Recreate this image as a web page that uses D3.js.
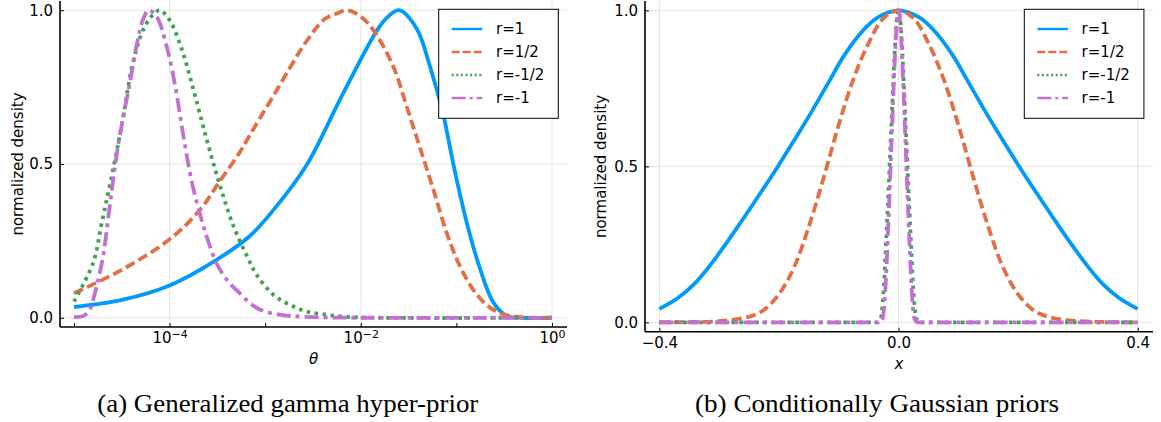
<!DOCTYPE html>
<html>
<head>
<meta charset="utf-8">
<script src="https://cdn.jsdelivr.net/npm/d3@7/dist/d3.min.js"></script>
<style>
  html, body { margin: 0; padding: 0; background: #fff; }
  svg { display: block; }
  text { font-family: "DejaVu Sans", sans-serif; fill: #000; }
</style>
</head>
<body>
<svg id="chart" width="1161" height="422"></svg>
<script>
// ---------------- DATA ----------------
// Panel (a): generalized gamma hyper-prior, x = log10(theta)
const seriesNames = ["r=1", "r=1/2", "r=-1/2", "r=-1"];

const a_r1_logTheta = [-5, -4.5, -4, -3.5, -3.16, -2.915, -2.566, -2.22, -1.87, -1.75, -1.6, -1.415, -1.276, -1.137, -1.032, -0.892, -0.753, -0.614, -0.474, -0.3, 0];
const a_r1_density  = [0.035, 0.058, 0.105, 0.19, 0.266, 0.35, 0.497, 0.708, 0.914, 0.968, 1.0, 0.94, 0.817, 0.66, 0.5, 0.31, 0.16, 0.05, 0.006, 0, 0];

const a_rHalf_logTheta = [-5, -4.5, -4, -3.682, -3.473, -3.264, -3.159, -2.915, -2.566, -2.374, -2.245, -2.147, -2.01, -1.87, -1.66, -1.52, -1.38, -1.24, -1.10, -0.962, -0.823, -0.683, -0.544, -0.335, 0];
const a_rHalf_density  = [0.08, 0.156, 0.255, 0.351, 0.445, 0.539, 0.595, 0.721, 0.90, 0.972, 0.99, 1.0, 0.982, 0.936, 0.817, 0.687, 0.552, 0.416, 0.275, 0.167, 0.091, 0.042, 0.015, 0.002, 0];

const a_rMinusHalf_logTheta = [-5, -4.8, -4.71, -4.62, -4.5, -4.38, -4.26, -4.15, -4.1, -4.0, -3.87, -3.75, -3.61, -3.47, -3.33, -3.18, -3.09, -2.915, -2.74, -2.566, -2.36, -2.15, -1.8, 0];
const a_rMinusHalf_density  = [0.053, 0.178, 0.308, 0.438, 0.627, 0.833, 0.947, 0.992, 1.0, 0.968, 0.871, 0.741, 0.578, 0.427, 0.297, 0.194, 0.14, 0.075, 0.042, 0.02, 0.01, 0.003, 0, 0];

const a_rMinus1_logTheta = [-5, -4.9, -4.83, -4.8, -4.75, -4.69, -4.64, -4.59, -4.54, -4.47, -4.41, -4.34, -4.28, -4.22, -4.135, -4.03, -3.94, -3.86, -3.77, -3.68, -3.6, -3.51, -3.4, -3.26, -3.16, -3.05, -2.85, -2.57, -2.0, 0];
const a_rMinus1_density  = [0.002, 0.006, 0.03, 0.058, 0.118, 0.21, 0.329, 0.448, 0.557, 0.676, 0.773, 0.893, 0.968, 1.0, 0.979, 0.882, 0.752, 0.6, 0.445, 0.335, 0.253, 0.178, 0.123, 0.078, 0.048, 0.026, 0.01, 0.003, 0, 0];

// Panel (b): conditionally Gaussian priors, x
const b_r1_x       = [-0.40, -0.369, -0.341, -0.313, -0.286, -0.258, -0.230, -0.202, -0.174, -0.146, -0.118, -0.090, -0.062, -0.034, 0, 0.034, 0.062, 0.090, 0.118, 0.146, 0.174, 0.202, 0.230, 0.258, 0.286, 0.313, 0.341, 0.369, 0.40];
const b_r1_density = [0.043, 0.078, 0.124, 0.188, 0.259, 0.337, 0.417, 0.499, 0.585, 0.673, 0.766, 0.858, 0.93, 0.978, 1.0, 0.978, 0.93, 0.858, 0.766, 0.673, 0.585, 0.499, 0.417, 0.337, 0.259, 0.188, 0.124, 0.078, 0.043];

const b_rHalf_x       = [-0.40, -0.35, -0.30, -0.25, -0.225, -0.20, -0.175, -0.15, -0.125, -0.10, -0.075, -0.05, -0.025, 0, 0.025, 0.05, 0.075, 0.10, 0.125, 0.15, 0.175, 0.20, 0.225, 0.25, 0.30, 0.35, 0.40];
const b_rHalf_density = [0.0, 0.001, 0.004, 0.018, 0.04, 0.09, 0.175, 0.307, 0.465, 0.633, 0.782, 0.895, 0.975, 1.0, 0.975, 0.895, 0.782, 0.633, 0.465, 0.307, 0.175, 0.09, 0.04, 0.018, 0.004, 0.001, 0.0];

const b_rMinusHalf_x       = [-0.40, -0.035, -0.030, -0.027, -0.024, -0.021, -0.018, -0.015, -0.012, -0.009, -0.006, -0.003, 0, 0.003, 0.006, 0.009, 0.012, 0.015, 0.018, 0.021, 0.024, 0.027, 0.030, 0.035, 0.40];
const b_rMinusHalf_density = [0, 0, 0.01, 0.05, 0.13, 0.25, 0.37, 0.5, 0.63, 0.76, 0.88, 0.97, 1.0, 0.97, 0.88, 0.76, 0.63, 0.5, 0.37, 0.25, 0.13, 0.05, 0.01, 0, 0];

const b_rMinus1_x       = [-0.40, -0.032, -0.027, -0.024, -0.021, -0.018, -0.015, -0.012, -0.009, -0.006, -0.003, 0, 0.003, 0.006, 0.009, 0.012, 0.015, 0.018, 0.021, 0.024, 0.027, 0.032, 0.40];
const b_rMinus1_density = [0, 0, 0.01, 0.05, 0.14, 0.27, 0.41, 0.56, 0.71, 0.85, 0.96, 1.0, 0.96, 0.85, 0.71, 0.56, 0.41, 0.27, 0.14, 0.05, 0.01, 0, 0];

// tick values
const a_xTickExponents = [-5, -4, -3, -2, -1, 0];
const a_xLabelExponents = [-4, -2, 0];
const b_xTicks = [-0.4, 0.0, 0.4];
const yTicks = [0, 0.5, 1.0];
const captions = ["(a) Generalized gamma hyper-prior", "(b) Conditionally Gaussian priors"];
const xTitles = ["θ", "x"];
const yTitle = "normalized density";

// ---------------- STYLE ----------------
const colors = ["#009AFA", "#E26F46", "#3EA44E", "#C271D2"];
const dashes = [null, "10,4.5", "3.5,4.5", "14,5,4,5"];
const legendDashes = [null, "8,3", "2,2.6", "14,4,3,4"];
const lineW = 3.8;

const svg = d3.select("#chart");

function drawPanel(opts) {
  const g = svg.append("g");
  const {x, y, left, right, top, bottom, clipId} = opts;

  // grid
  g.append("g").selectAll("line.gx").data(opts.gridX).join("line")
    .attr("x1", d => x(d)).attr("x2", d => x(d))
    .attr("y1", top).attr("y2", bottom)
    .attr("stroke", "#000").attr("stroke-opacity", 0.1).attr("stroke-width", 1);
  g.append("g").selectAll("line.gy").data(yTicks).join("line")
    .attr("x1", left).attr("x2", right)
    .attr("y1", d => y(d)).attr("y2", d => y(d))
    .attr("stroke", "#000").attr("stroke-opacity", 0.1).attr("stroke-width", 1);

  // clip
  svg.append("defs").append("clipPath").attr("id", clipId)
    .append("rect").attr("x", left).attr("y", top).attr("width", right - left).attr("height", bottom - top);

  const lg = g.append("g").attr("clip-path", `url(#${clipId})`);
  opts.series.forEach((s, i) => {
    const pts = s.xs.map((xv, k) => [x(opts.xConv(xv)), y(s.ys[k])]);
    const curve = s.spike ? d3.curveMonotoneX : d3.curveCatmullRom.alpha(0.5);
    const line = d3.line().curve(curve);
    lg.append("path").attr("d", line(pts))
      .attr("fill", "none").attr("stroke", colors[i])
      .attr("stroke-width", lineW)
      .attr("stroke-dasharray", dashes[i])
      .attr("stroke-linejoin", "round");
  });

  // axes
  const xAxis = d3.axisBottom(x).tickValues(opts.xTickVals).tickSizeInner(-4).tickSizeOuter(0).tickPadding(5.7)
    .tickFormat(opts.xFmt);
  const gx = g.append("g").attr("transform", `translate(0,${bottom})`).call(xAxis);
  const yAxis = d3.axisLeft(y).tickValues(yTicks).tickSizeInner(-4).tickSizeOuter(0).tickPadding(7)
    .tickFormat(d3.format(".1f"));
  const gy = g.append("g").attr("transform", `translate(${left},0)`).call(yAxis);
  [gx, gy].forEach(a => {
    a.attr("font-family", null).attr("font-size", null);
    a.selectAll("text").style("font-family", "DejaVu Sans").style("font-size", "15px").attr("fill", "#000");
    a.selectAll(".tick line").attr("stroke", "#000").attr("stroke-width", 1);
    a.select(".domain").attr("stroke", "#000").attr("stroke-width", 1.6);
  });
  gx.select(".domain").attr("d", `M${left},0H${right}`);
  gy.select(".domain").attr("d", `M0,${top}V${bottom}`);
  if (opts.postX) opts.postX(gx);

  // titles
  g.append("text").attr("x", (left + right) / 2).attr("y", bottom + 37)
    .attr("text-anchor", "middle").style("font-size", "15px").style("font-style", "italic")
    .text(opts.xTitle);
  g.append("text").attr("transform", `translate(${opts.yTitleX},${opts.yTitleY}) rotate(-90)`)
    .attr("text-anchor", "middle").style("font-size", "15px")
    .text(yTitle);

  // legend
  const L = g.append("g").attr("transform", `translate(${opts.legX},9.3)`);
  L.append("rect").attr("width", 119.6).attr("height", 109).attr("fill", "#fff")
    .attr("stroke", "#000").attr("stroke-width", 1);
  seriesNames.forEach((nm, i) => {
    const yy = 19.7 + i * 23;
    L.append("line").attr("x1", 13).attr("x2", 43.6).attr("y1", yy).attr("y2", yy)
      .attr("stroke", colors[i]).attr("stroke-width", 2.4).attr("stroke-dasharray", legendDashes[i]);
    L.append("text").attr("x", 57.3).attr("y", yy).attr("dy", "0.36em")
      .style("font-size", "15px").text(nm);
  });

  // caption
  svg.append("text").attr("x", opts.capX).attr("y", 412.3)
    .attr("textLength", opts.capW).attr("lengthAdjust", "spacingAndGlyphs")
    .style("font-family", "'Liberation Serif', serif").style("font-size", "26px")
    .text(opts.caption);
}

// Panel (a)
const xA = d3.scaleLog().domain([Math.pow(10, -5.146), Math.pow(10, 0.157)]).range([60, 567]);
const yA = d3.scaleLinear().domain([-0.03, 1.03]).range([327, 1]);
drawPanel({
  x: xA, y: yA, left: 60, right: 567, top: 1, bottom: 327, clipId: "clipA",
  gridX: a_xLabelExponents.map(e => Math.pow(10, e)),
  xConv: e => Math.pow(10, e),
  series: [
    {xs: a_r1_logTheta, ys: a_r1_density},
    {xs: a_rHalf_logTheta, ys: a_rHalf_density},
    {xs: a_rMinusHalf_logTheta, ys: a_rMinusHalf_density},
    {xs: a_rMinus1_logTheta, ys: a_rMinus1_density}
  ],
  xTickVals: a_xTickExponents.map(e => Math.pow(10, e)),
  xFmt: () => "",
  postX: gx => {
    gx.selectAll(".tick text").each(function(d) {
      const e = Math.round(Math.log10(d));
      if (a_xLabelExponents.indexOf(e) < 0) return;
      const t = d3.select(this);
      t.text(null);
      t.append("tspan").text("10");
      t.append("tspan").attr("dy", "-5").style("font-size", "11px").text(e === 0 ? "0" : "\u2212" + Math.abs(e));
    });
  },
  xTitle: xTitles[0], yTitleX: 22.5, yTitleY: 164,
  legX: 438.7, capX: 97.3, capW: 381, caption: captions[0]
});

// Panel (b)
const xB = d3.scaleLinear().domain([-0.424, 0.4256]).range([645, 1153]);
const yB = d3.scaleLinear().domain([-0.03, 1.03]).range([331.7, 1]);
drawPanel({
  x: xB, y: yB, left: 645, right: 1153, top: 1, bottom: 331.7, clipId: "clipB",
  gridX: b_xTicks,
  xConv: v => v,
  series: [
    {xs: b_r1_x, ys: b_r1_density},
    {xs: b_rHalf_x, ys: b_rHalf_density},
    {xs: b_rMinusHalf_x, ys: b_rMinusHalf_density, spike: true},
    {xs: b_rMinus1_x, ys: b_rMinus1_density, spike: true}
  ],
  xTickVals: b_xTicks,
  xFmt: d => (d < 0 ? "\u2212" : "") + Math.abs(d).toFixed(1),
  xTitle: xTitles[1], yTitleX: 606, yTitleY: 166.5,
  legX: 1024.3, capX: 695, capW: 364, caption: captions[1]
});
</script>
</body>
</html>
